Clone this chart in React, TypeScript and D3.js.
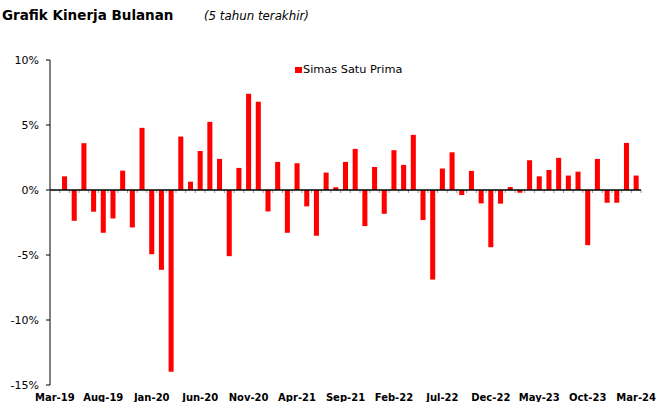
import { useMemo } from 'react';
import * as d3 from 'd3';

// monthly returns (%), Mar-19 is the base month
const RETURNS = [
    0, 1.05, -2.37, 3.6, -1.67, -3.29, -2.19, 1.49, -2.88, 4.78,
    -4.94, -6.14, -13.98, 4.11, 0.64, 3.0, 5.24, 2.39, -5.09, 1.7,
    7.4, 6.79, -1.65, 2.16, -3.29, 2.06, -1.26, -3.52, 1.34, 0.21,
    2.16, 3.16, -2.78, 1.77, -1.83, 3.06, 1.93, 4.24, -2.31, -6.89,
    1.65, 2.9, -0.39, 1.47, -1.03, -4.4, -1.05, 0.23, -0.21, 2.29,
    1.05, 1.54, 2.47, 1.11, 1.41, -4.24, 2.39, -0.98, -0.98, 3.62,
    1.11
];
const Y_TICKS = [10, 5, 0, -5, -10, -15];
const SERIES_NAME = 'Simas Satu Prima';
const TITLE = 'Grafik Kinerja Bulanan';
const SUBTITLE = '(5 tahun terakhir)';

const MONTHS = d3.timeMonths(new Date(2019, 2, 1), new Date(2024, 3, 1)).map(d3.timeFormat('%b-%y'));

const CHART = {
    width: 670,
    height: 402,
    left: 50,
    right: 641,
    top: 60,
    bottom: 385
};

const FONT = 'Tahoma, "DejaVu Sans", sans-serif';

export default function App() {
    const x = useMemo(() => d3.scaleBand<string>()
        .domain(MONTHS)
        .range([CHART.left, CHART.right])
        .paddingInner(0.48)
        .paddingOuter(0.24), []);
    const y = useMemo(() => d3.scaleLinear().domain([-15, 10]).range([CHART.bottom, CHART.top]), []);

    const step = x.step();
    const zero = y(0);

    return (
        <svg width={CHART.width} height={CHART.height}
            style={{ position: 'absolute', left: 0, top: 0, background: '#fff' }}
            fontFamily={FONT}>
            <text x={2} y={20} fontSize={13.5} fontWeight="bold" fill="#000">{TITLE}</text>
            <text x={204} y={20} fontSize={11.8} fontStyle="italic" fill="#000">{SUBTITLE}</text>

            {/* bars */}
            {RETURNS.map((v, i) => (
                <rect key={MONTHS[i]}
                    x={x(MONTHS[i])}
                    y={y(Math.max(0, v))}
                    width={x.bandwidth()}
                    height={Math.abs(y(v) - zero)}
                    fill="#ff0000" />
            ))}

            {/* y axis */}
            <line x1={CHART.left} x2={CHART.left} y1={CHART.top} y2={CHART.bottom} stroke="#000" strokeWidth={1} />
            {Y_TICKS.map((t) => (
                <g key={t}>
                    <line x1={CHART.left - 4} x2={CHART.left} y1={y(t)} y2={y(t)} stroke="#000" />
                    <text x={39} y={y(t)} dy="0.35em" textAnchor="end" fontSize={11} fill="#000">{t}%</text>
                </g>
            ))}

            {/* x axis on zero line */}
            {d3.range(MONTHS.length + 1).map((i) => (
                <line key={i} x1={CHART.left + i * step} x2={CHART.left + i * step}
                    y1={zero} y2={zero + 3} stroke="#999" />
            ))}
            <line x1={CHART.left} x2={CHART.right} y1={zero} y2={zero} stroke="#000" strokeWidth={1.5} />
            {MONTHS.map((m, i) => i % 5 === 0 ? (
                <text key={m} x={(x(m) ?? 0) + x.bandwidth() / 2} y={401} textAnchor="middle"
                    fontSize={10} fontWeight="bold" fill="#000">{m}</text>
            ) : null)}

            {/* legend */}
            <rect x={295} y={67} width={7} height={6} fill="#ff0000" />
            <text x={303} y={72.5} fontSize={11.3} fill="#000">{SERIES_NAME}</text>
        </svg>
    );
}
